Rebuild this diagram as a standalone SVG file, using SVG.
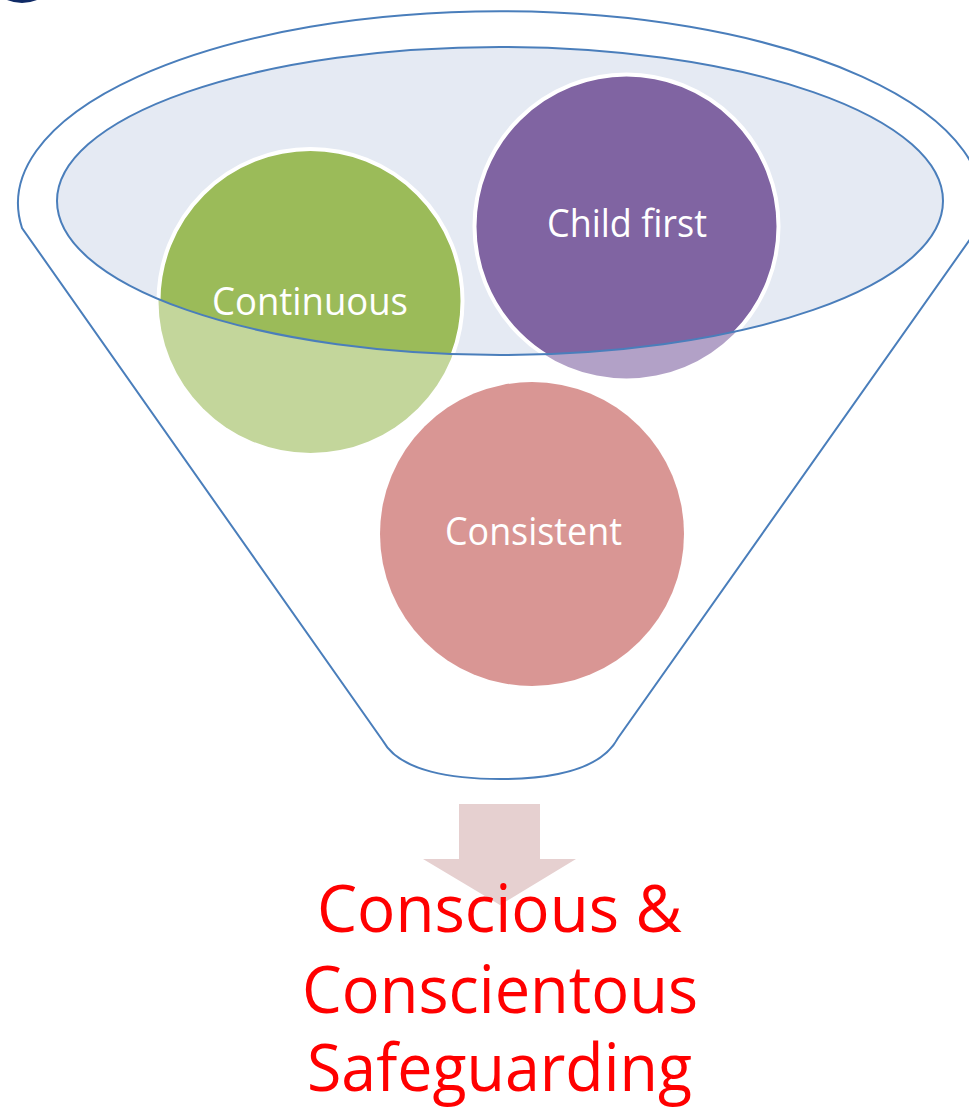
<svg xmlns="http://www.w3.org/2000/svg" width="969" height="1107" viewBox="0 0 969 1107">
  <style>
    .outline { fill: none; stroke: #4A7EBB; stroke-width: 2; }
    .lbl { font-family: "Open Sans", "Noto Sans", sans-serif; font-size: 38px; fill: #FFFFFF; text-anchor: middle; }
    .big { font-family: "Open Sans", "Noto Sans", sans-serif; font-size: 66px; fill: #FF0000; text-anchor: middle; }
    .ring { fill: none; stroke: #FFFFFF; stroke-width: 4; }
  </style>
  <defs>
    <clipPath id="inner">
      <ellipse cx="500" cy="201" rx="443" ry="154"/>
    </clipPath>
  </defs>

  <rect width="969" height="1107" fill="#FFFFFF"/>
  <path d="M7 0 Q 22 6 37 0 Z" fill="#0F2A66"/>

  <g id="funnel">
    <path class="outline" d="M22 228 A 482 192 0 1 1 978 228 L 618 738 C 600 772, 545 779, 500 779 C 455 779, 400 772, 383 741 Z"/>
    <ellipse cx="500" cy="201" rx="443" ry="154" fill="#E5EAF3"/>
  </g>

  <g id="node-continuous">
    <circle cx="310.5" cy="301" r="152" fill="#C3D69B"/>
    <g clip-path="url(#inner)">
      <circle cx="310.5" cy="301" r="152" fill="#9BBB59"/>
      <circle class="ring" cx="310.5" cy="301" r="152"/>
    </g>
  </g>

  <g id="node-childfirst">
    <circle cx="626.5" cy="226.5" r="152" fill="#B2A1C7"/>
    <g clip-path="url(#inner)">
      <circle cx="626.5" cy="226.5" r="152" fill="#8064A2"/>
      <circle class="ring" cx="626.5" cy="226.5" r="152"/>
    </g>
  </g>

  <g id="node-consistent">
    <circle cx="532" cy="534" r="152" fill="#D99694"/>
  </g>

  <ellipse class="outline" cx="500" cy="201" rx="443" ry="154"/>

  <g id="connectors">
    <path d="M459 804 L540 804 L540 859 L576 859 L500 905 L423 859 L459 859 Z" fill="#E6D0D0"/>
  </g>

  <g id="labels">
    <text class="lbl" x="310" y="315" textLength="196" lengthAdjust="spacingAndGlyphs">Continuous</text>
    <text class="lbl" x="627" y="237" textLength="160" lengthAdjust="spacingAndGlyphs">Child first</text>
    <text class="lbl" x="533.5" y="545" textLength="177" lengthAdjust="spacingAndGlyphs">Consistent</text>
  </g>

  <g id="node-result">
    <text class="big" x="499.5" y="932" textLength="365" lengthAdjust="spacingAndGlyphs">Conscious &amp;</text>
    <text class="big" x="500" y="1013" textLength="396" lengthAdjust="spacingAndGlyphs">Conscientous</text>
    <text class="big" x="499.5" y="1091" textLength="385" lengthAdjust="spacingAndGlyphs">Safeguarding</text>
  </g>
</svg>
